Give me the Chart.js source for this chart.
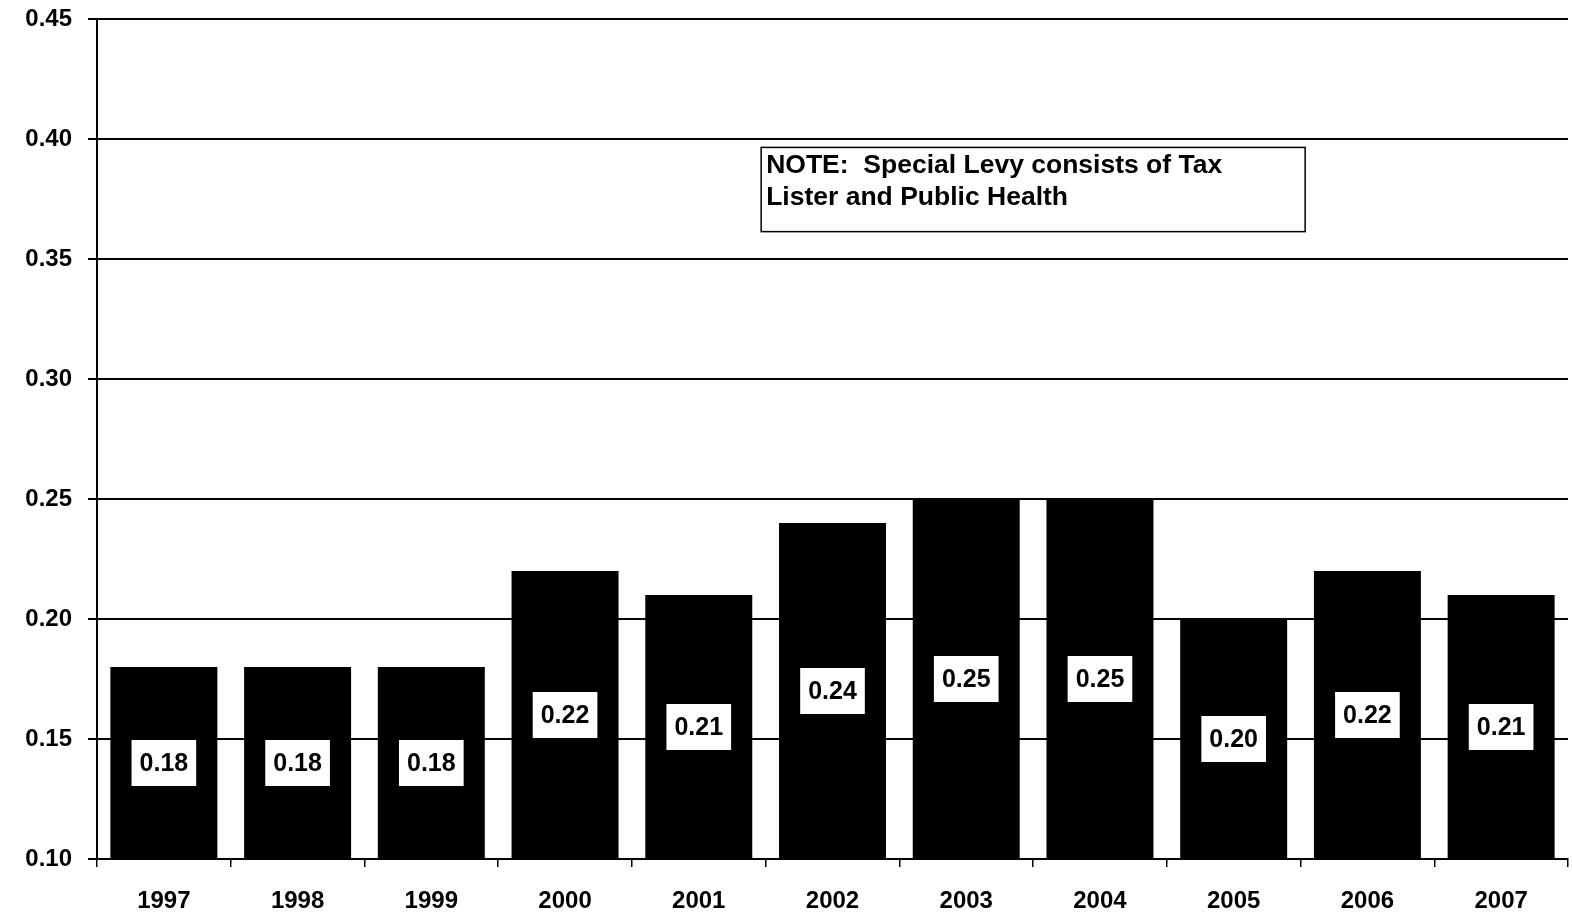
<!DOCTYPE html>
<html>
<head>
<meta charset="utf-8">
<script src="https://cdn.jsdelivr.net/npm/chart.js@4/dist/chart.umd.min.js"></script>
<style>
html,body{margin:0;padding:0;background:#fff;}
#wrap{width:1572px;height:922px;position:relative;}
</style>
</head>
<body>
<div id="wrap"><canvas id="c" width="1572" height="922"></canvas></div>
<script>
const years = ["1997","1998","1999","2000","2001","2002","2003","2004","2005","2006","2007"];
const levy = [0.18,0.18,0.18,0.22,0.21,0.24,0.25,0.25,0.20,0.22,0.21];
const valueLabels = ["0.18","0.18","0.18","0.22","0.21","0.24","0.25","0.25","0.20","0.22","0.21"];
const noteLines = ["NOTE:  Special Levy consists of Tax","Lister and Public Health"];

const FONT = "Arial, 'Liberation Sans', sans-serif";

const labelPlugin = {
  id: 'valueBoxes',
  afterDatasetsDraw(chart) {
    const ctx = chart.ctx;
    const meta = chart.getDatasetMeta(0);
    const yScale = chart.scales.y;
    const basePx = yScale.getPixelForValue(yScale.min);
    ctx.save();
    ctx.font = "bold 25px " + FONT;
    ctx.textAlign = "center";
    ctx.textBaseline = "middle";
    meta.data.forEach((bar, i) => {
      const cy = (bar.y + basePx) / 2;
      const txt = valueLabels[i];
      const w = ctx.measureText(txt).width + 16;
      const h = 46;
      ctx.fillStyle = "#fff";
      ctx.fillRect(bar.x - w/2, cy - h/2, w, h);
      ctx.fillStyle = "#000";
      ctx.fillText(txt, bar.x, cy + 1);
    });
    ctx.restore();
  }
};

const notePlugin = {
  id: 'noteBox',
  afterDraw(chart) {
    const ctx = chart.ctx;
    const a = chart.chartArea;
    const x0 = a.left + (a.right - a.left) * 0.4515;
    const x1 = a.left + (a.right - a.left) * 0.8213;
    const y0 = chart.scales.y.getPixelForValue(0.3965);
    const y1 = chart.scales.y.getPixelForValue(0.3614);
    ctx.save();
    ctx.fillStyle = "#fff";
    ctx.fillRect(x0, y0, x1 - x0, y1 - y0);
    ctx.strokeStyle = "#000";
    ctx.lineWidth = 1.5;
    ctx.strokeRect(x0, y0, x1 - x0, y1 - y0);
    ctx.fillStyle = "#000";
    ctx.font = "bold 26.5px " + FONT;
    ctx.textAlign = "left";
    ctx.textBaseline = "middle";
    ctx.fillText(noteLines[0], x0 + 5, y0 + 18);
    ctx.fillText(noteLines[1], x0 + 5, y0 + 50);
    ctx.restore();
  }
};

new Chart(document.getElementById('c'), {
  type: 'bar',
  data: {
    labels: years,
    datasets: [{
      data: levy,
      backgroundColor: '#000',
      borderWidth: 0,
      barPercentage: 0.8,
      categoryPercentage: 1.0
    }]
  },
  options: {
    responsive: false,
    animation: false,
    devicePixelRatio: 1,
    layout: { padding: { top: 19, right: 4, left: 0, bottom: 0 } },
    plugins: { legend: { display: false }, tooltip: { enabled: false } },
    scales: {
      x: {
        offset: true,
        grid: { offset: true, drawOnChartArea: false, color: '#000', lineWidth: 1.5, tickLength: 8 },
        border: { color: '#000', width: 2 },
        ticks: { color: '#000', font: { family: FONT, size: 24, weight: 'bold' }, padding: 20, maxRotation: 0 },
        afterFit(s) { s.height = 63; s.paddingLeft = 0; s.paddingRight = 0; }
      },
      y: {
        min: 0.10, max: 0.45,
        ticks: { stepSize: 0.05, color: '#000', font: { family: FONT, size: 24, weight: 'bold' }, padding: 16,
          callback: v => v.toFixed(2) },
        grid: { color: '#000', lineWidth: 2, tickLength: 9 },
        border: { color: '#000', width: 2 },
        afterFit(s) { s.width = 97; s.paddingTop = 0; s.paddingBottom = 0; }
      }
    }
  },
  plugins: [labelPlugin, notePlugin]
});
</script>
</body>
</html>
